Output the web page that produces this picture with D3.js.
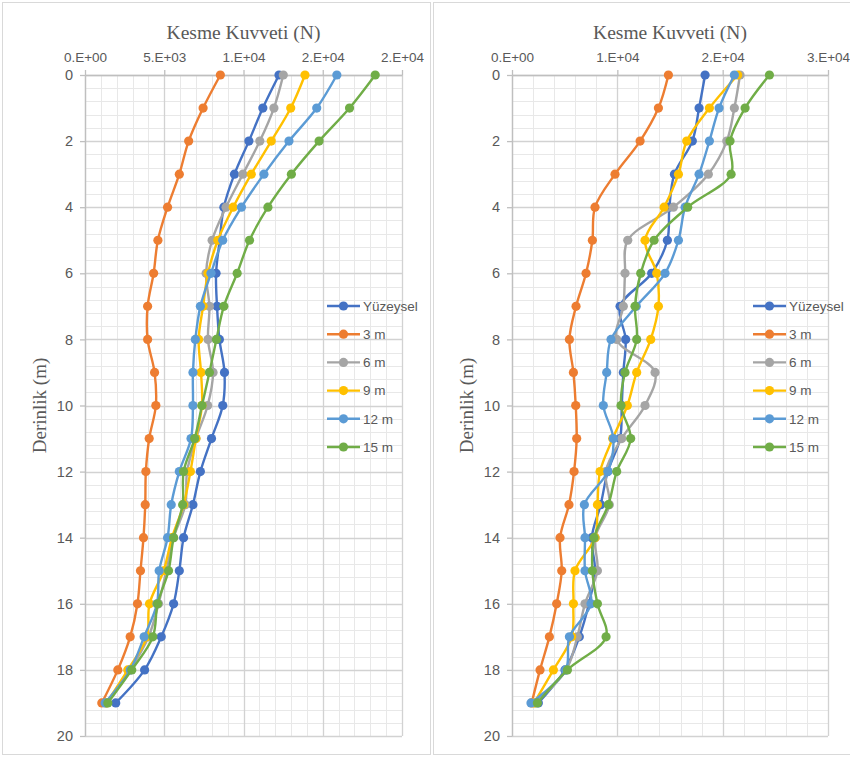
<!DOCTYPE html>
<html><head><meta charset="utf-8">
<script src="https://cdn.jsdelivr.net/npm/d3@7"></script>
<style>body{margin:0;background:#fff}svg{display:block}</style>
</head><body>
<svg id="c" width="850" height="758"></svg>
<script>
const depths = [0,1,2,3,4,5,6,7,8,9,10,11,12,13,14,15,16,17,18,19];
const seriesNames = ["Yüzeysel","3 m","6 m","9 m","12 m","15 m"];
const seriesColors = ["#4472C4","#ED7D31","#A5A5A5","#FFC000","#5B9BD5","#70AD47"];
const depthTicks = [0,2,4,6,8,10,12,14,16,18,20];

// Left chart values (N)
const leftYuzeysel = [12240,11220,10340,9430,8760,8500,8270,8330,8480,8800,8690,7980,7280,6810,6220,5950,5590,4810,3760,1940];
const left3m      = [8540,7450,6540,5950,5210,4600,4330,3950,3950,4390,4470,4050,3840,3800,3690,3500,3310,2850,2070,1060];
const left6m      = [12510,11920,11030,9960,8900,8020,7640,7850,7760,8080,7740,7000,6440,6330,5590,5130,4640,4010,2850,1350];
const left9m      = [13880,12980,11750,10490,9350,8380,7760,7450,7170,7320,7380,7000,6650,6220,5490,4960,4070,3900,2700,1350];
const left12m     = [15890,14620,12870,11290,9870,8690,7950,7280,6960,6810,6810,6690,5950,5440,5210,4680,4540,3730,2850,1270];
const left15m     = [18310,16690,14770,13020,11540,10380,9600,8760,8290,7850,7380,6920,6220,6160,5590,5270,4580,4280,2950,1440];
const leftTickValues = [0,5000,10000,15000,20000];
const leftTickLabels = ["0.E+00","5.E+03","1.E+04","2.E+04","2.E+04"];

// Right chart values (N)
const rightYuzeysel = [18330,17760,17120,15420,14940,14750,13260,10260,10790,10570,10420,10260,9090,8420,7570,7880,7300,6390,5030,2500];
const right3m      = [14850,13900,12160,9780,7880,7630,7030,6080,5450,5830,6050,6140,5890,5410,4560,4720,4240,3550,2660,1870];
const right6m      = [21650,21110,20390,18640,15320,10990,10730,10570,9940,13580,12630,10420,8900,9240,7900,8110,6930,6200,5150,2200];
const right9m      = [21430,18740,16590,15800,14440,12630,13740,13900,13170,11840,10950,9560,8360,8110,7880,5980,5830,5670,3930,2100];
const right12m     = [21110,19660,18740,17760,16430,15800,14530,11800,9400,8990,8670,9620,9090,6870,6930,6930,7500,5450,5100,1800];
const right15m     = [24440,22130,20700,20800,16680,13490,12220,11680,11840,10730,10350,11270,9940,9150,7790,7630,8110,8930,5260,2410];
const rightTickValues = [0,10000,20000,30000];
const rightTickLabels = ["0.E+00","1.E+04","2.E+04","3.E+04"];

const titleText = "Kesme Kuvveti (N)";
const yTitleText = "Derinlik (m)";

const svg = d3.select("#c");

function drawChart(cfg) {
  const g = svg.append("g");
  g.append("rect").attr("x", cfg.panel[0]+0.5).attr("y", cfg.panel[1]+0.5)
    .attr("width", cfg.panel[2]).attr("height", cfg.panel[3])
    .attr("fill", "#fff").attr("stroke", "#d9d9d9").attr("stroke-width", 1);

  const x = d3.scaleLinear().domain(cfg.xDomain).range([cfg.left, cfg.right]);
  const y = d3.scaleLinear().domain([0, 20]).range([cfg.top, cfg.bottom]);

  const xMinor = d3.range(cfg.xDomain[0], cfg.xDomain[1] + 1e-6, cfg.xMinorStep);
  const yMinor = d3.range(0, 20 + 1e-6, 0.4);
  g.append("g").selectAll("line").data(xMinor).join("line")
    .attr("x1", d => Math.round(x(d))+0.5).attr("x2", d => Math.round(x(d))+0.5)
    .attr("y1", cfg.top).attr("y2", cfg.bottom)
    .attr("stroke", "#e8e8e8").attr("stroke-width", 1);
  g.append("g").selectAll("line").data(yMinor).join("line")
    .attr("y1", d => Math.round(y(d))+0.5).attr("y2", d => Math.round(y(d))+0.5)
    .attr("x1", cfg.left).attr("x2", cfg.right)
    .attr("stroke", "#e8e8e8").attr("stroke-width", 1);
  g.append("g").selectAll("line").data(cfg.tickValues).join("line")
    .attr("x1", d => Math.round(x(d))+0.5).attr("x2", d => Math.round(x(d))+0.5)
    .attr("y1", cfg.top).attr("y2", cfg.bottom)
    .attr("stroke", "#d2d2d2").attr("stroke-width", 1.3);
  g.append("g").selectAll("line").data(depthTicks).join("line")
    .attr("y1", d => Math.round(y(d))+0.5).attr("y2", d => Math.round(y(d))+0.5)
    .attr("x1", cfg.left).attr("x2", cfg.right)
    .attr("stroke", "#d2d2d2").attr("stroke-width", 1.3);

  const xAxis = d3.axisTop(x).tickValues(cfg.tickValues)
    .tickFormat((d, i) => cfg.tickLabels[i]).tickSize(5).tickSizeOuter(0).tickPadding(8);
  const ax = g.append("g").attr("transform", `translate(0,${cfg.top})`).call(xAxis);
  const yAxis = d3.axisLeft(y).tickValues(depthTicks).tickSize(5).tickSizeOuter(0).tickPadding(7);
  const ay = g.append("g").attr("transform", `translate(${cfg.left},0)`).call(yAxis);
  [ax, ay].forEach(a => {
    a.select(".domain").attr("stroke", "#bfbfbf").attr("stroke-width", 1.3);
    a.selectAll(".tick line").attr("stroke", "#bfbfbf").attr("stroke-width", 1.3);
    a.selectAll(".tick text").attr("fill", "#595959")
      .attr("font-family", "'Liberation Sans', Arial, sans-serif");
  });
  ax.selectAll(".tick text").attr("font-size", "13.5px");
  ay.selectAll(".tick text").attr("font-size", "14.5px");

  g.append("text").attr("x", (cfg.left + cfg.right) / 2).attr("y", 39)
    .attr("text-anchor", "middle").attr("fill", "#595959")
    .attr("font-family", "'Liberation Serif', 'Times New Roman', serif")
    .attr("font-size", "19.5px").text(titleText);
  g.append("text")
    .attr("transform", `translate(${cfg.yTitleX},${(cfg.top + cfg.bottom) / 2}) rotate(-90)`)
    .attr("text-anchor", "middle").attr("fill", "#595959")
    .attr("font-family", "'Liberation Serif', 'Times New Roman', serif")
    .attr("font-size", "19px").text(yTitleText);

  const line = d3.line().x(d => x(d.v)).y(d => y(d.d)).curve(d3.curveCatmullRom.alpha(0.5));
  cfg.series.forEach((vals, si) => {
    const pts = vals.map((v, i) => ({ v, d: depths[i] }));
    const sg = g.append("g");
    sg.append("path").datum(pts).attr("d", line).attr("fill", "none")
      .attr("stroke", seriesColors[si]).attr("stroke-width", 2.4)
      .attr("stroke-linejoin", "round");
    sg.selectAll("circle").data(pts).join("circle")
      .attr("cx", d => x(d.v)).attr("cy", d => y(d.d)).attr("r", 4.6)
      .attr("fill", seriesColors[si]);
  });

  const lg = g.append("g");
  seriesNames.forEach((name, i) => {
    const yy = cfg.legendY + i * 28.2;
    lg.append("line").attr("x1", cfg.legendX).attr("x2", cfg.legendX + 33)
      .attr("y1", yy).attr("y2", yy).attr("stroke", seriesColors[i]).attr("stroke-width", 2.4);
    lg.append("circle").attr("cx", cfg.legendX + 16.5).attr("cy", yy).attr("r", 4.6)
      .attr("fill", seriesColors[i]);
    lg.append("text").attr("x", cfg.legendX + 36).attr("y", yy + 4.8)
      .attr("fill", "#595959").attr("font-family", "'Liberation Sans', Arial, sans-serif")
      .attr("font-size", "13.5px").text(name);
  });
}

drawChart({
  panel: [2, 2, 428, 752], left: 85, right: 402, top: 75, bottom: 736,
  xDomain: [0, 20000], xMinorStep: 1000,
  tickValues: leftTickValues, tickLabels: leftTickLabels,
  series: [leftYuzeysel, left3m, left6m, left9m, left12m, left15m],
  yTitleX: 46, legendX: 327, legendY: 306
});
drawChart({
  panel: [433, 2, 420, 752], left: 512, right: 828, top: 75, bottom: 736,
  xDomain: [0, 30000], xMinorStep: 2000,
  tickValues: rightTickValues, tickLabels: rightTickLabels,
  series: [rightYuzeysel, right3m, right6m, right9m, right12m, right15m],
  yTitleX: 473, legendX: 753, legendY: 306
});
</script>
</body></html>
